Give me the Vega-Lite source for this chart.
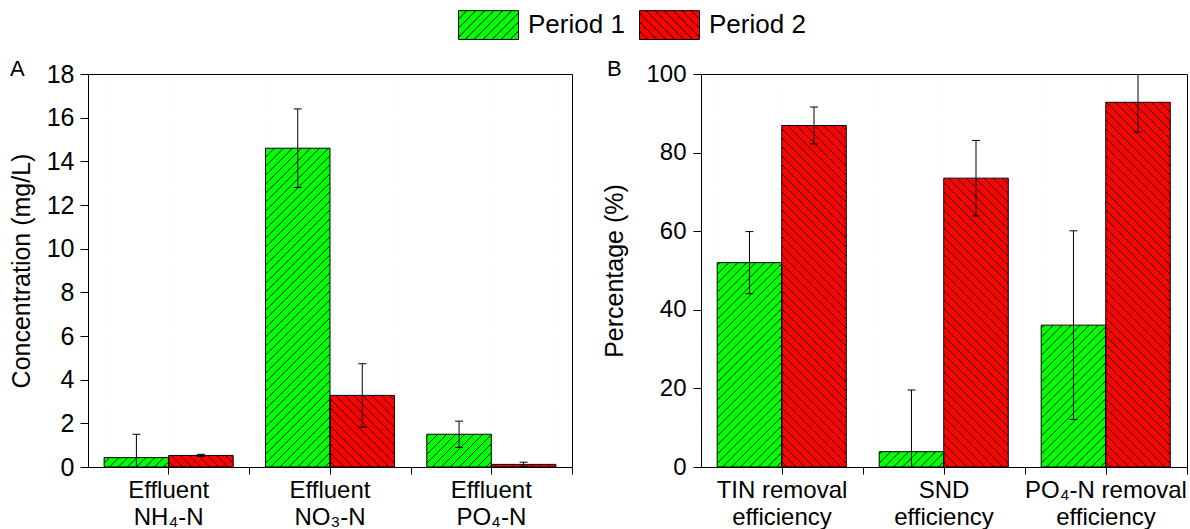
{
  "$schema": "https://vega.github.io/schema/vega-lite/v6.json",
  "autosize": {"type": "none"},
  "padding": {"left": 88, "top": 74, "right": 1102, "bottom": 455},
  "background": "white",
  "bounds": "flush",
  "spacing": 129,
  "config": {
    "font": "Liberation Sans",
    "view": {"stroke": "black", "strokeWidth": 1},
    "axis": {"labelFont": "Liberation Sans", "titleFont": "Liberation Sans", "labelColor": "black", "titleColor": "black", "domainColor": "black", "tickColor": "black", "titleFontWeight": "normal", "zindex": 1, "grid": false, "domainWidth": 1, "tickWidth": 1},
    "title": {"font": "Liberation Sans", "fontWeight": "normal", "color": "black", "fontSize": 22}
  },
  "hconcat": [
    {
      "width": 484,
      "height": 393,
      "title": {"text": "A", "anchor": "start", "frame": "group", "dx": -78, "dy": 36, "offset": 0, "baseline": "alphabetic", "fontSize": 22},
      "data": {"values": [
        {"item": "Effluent NH₄-N", "period": "Period 1", "value": 0.43, "lo": -0.64, "hi": 1.5},
        {"item": "Effluent NH₄-N", "period": "Period 2", "value": 0.53, "lo": 0.48, "hi": 0.58},
        {"item": "Effluent NO₃-N", "period": "Period 1", "value": 14.6, "lo": 12.8, "hi": 16.4},
        {"item": "Effluent NO₃-N", "period": "Period 2", "value": 3.28, "lo": 1.83, "hi": 4.73},
        {"item": "Effluent PO₄-N", "period": "Period 1", "value": 1.5, "lo": 0.9, "hi": 2.1},
        {"item": "Effluent PO₄-N", "period": "Period 2", "value": 0.12, "lo": 0.02, "hi": 0.22}
      ]},
      "resolve": {"axis": {"x": "independent"}},
      "layer": [
        {
          "mark": {"type": "bar", "stroke": null},
          "encoding": {
            "x": {"field": "item", "type": "nominal", "sort": null, "scale": {"paddingInner": 0.2, "paddingOuter": 0.1},
              "axis": {"orient": "bottom", "title": null, "labelAngle": 0, "labelFontSize": 24, "labelLineHeight": 27, "tickSize": 7, "labelPadding": 4, "labelLimit": 400, "labelOverlap": false,
                "labelExpr": "[slice(datum.label, 0, lastindexof(datum.label, ' ')), slice(datum.label, lastindexof(datum.label, ' ') + 1)]"}},
            "xOffset": {"field": "period", "type": "nominal", "sort": null},
            "y": {"field": "value", "type": "quantitative", "title": "Concentration (mg/L)",
              "scale": {"domain": [0, 18], "nice": false, "zero": true},
              "axis": {"values": [0,1,2,3,4,5,6,7,8,9,10,11,12,13,14,15,16,17,18], "labelExpr": "datum.value % 2 === 0 ? datum.label : ''", "labelOverlap": false, "labelFontSize": 25, "titleFontSize": 25, "labelPadding": 6, "titlePadding": 12, "tickSize": 8,
                "encode": {"ticks": {"update": {"x2": {"signal": "datum.value % 2 === 1 ? -4 : -8"}}}}}},
            "color": {"field": "period", "type": "nominal",
              "scale": {"domain": ["Period 1", "Period 2"], "range": ["#00ff00", "#ff0000"]},
              "legend": {"orient": "none", "legendX": 370, "legendY": -79.5, "direction": "horizontal", "columns": 2, "title": null,
                "labelFontSize": 26, "labelFont": "Liberation Sans", "labelColor": "black", "symbolSize": 3600, "labelOffset": 9, "columnPadding": 12,
                "symbolStrokeColor": "black", "symbolStrokeWidth": 1,
                "encode": {"symbols": {"update": {"stroke": {"value": "black"}, "strokeWidth": {"value": 1}, "shape": {"signal": "datum.value === 'Period 1' ? 'M-1,-0.48H1V0.48H-1ZM-1,-0.2L-0.72,-0.48M-1,0.1L-0.42,-0.48M-1,0.4L-0.12,-0.48M-0.78,0.48L0.18,-0.48M-0.48,0.48L0.48,-0.48M-0.18,0.48L0.78,-0.48M0.12,0.48L1,-0.4M0.42,0.48L1,-0.1M0.72,0.48L1,0.2' : 'M-1,-0.48H1V0.48H-1ZM1,-0.2L0.72,-0.48M1,0.1L0.42,-0.48M1,0.4L0.12,-0.48M0.78,0.48L-0.18,-0.48M0.48,0.48L-0.48,-0.48M0.18,0.48L-0.78,-0.48M-0.12,0.48L-1,-0.4M-0.42,0.48L-1,-0.1M-0.72,0.48L-1,0.2'"}}}}}}
          }
        },
        {
          "transform": [{"filter": "datum.period === 'Period 1'"}],
          "mark": {"type": "point", "filled": false, "stroke": "black", "strokeWidth": 0.9, "size": 4, "opacity": 1,
            "shape": "M27,0L31.8,-4.8M18,0L31.8,-13.8M9,0L31.8,-22.8M0,0L31.8,-31.8M-9,0L31.8,-40.8M-18,0L31.8,-49.8M-27,0L31.8,-58.8M-31.8,-4.2l63.6,-63.6M-31.8,-13.2l63.6,-63.6M-31.8,-22.2l63.6,-63.6M-31.8,-31.2l63.6,-63.6M-31.8,-40.2l63.6,-63.6M-31.8,-49.2l63.6,-63.6M-31.8,-58.2l63.6,-63.6M-31.8,-67.2l63.6,-63.6M-31.8,-76.2l63.6,-63.6M-31.8,-85.2l63.6,-63.6M-31.8,-94.2l63.6,-63.6M-31.8,-103.2l63.6,-63.6M-31.8,-112.2l63.6,-63.6M-31.8,-121.2l63.6,-63.6M-31.8,-130.2l63.6,-63.6M-31.8,-139.2l63.6,-63.6M-31.8,-148.2l63.6,-63.6M-31.8,-157.2l63.6,-63.6M-31.8,-166.2l63.6,-63.6M-31.8,-175.2l63.6,-63.6M-31.8,-184.2l63.6,-63.6M-31.8,-193.2l63.6,-63.6M-31.8,-202.2l63.6,-63.6M-31.8,-211.2l63.6,-63.6M-31.8,-220.2l63.6,-63.6M-31.8,-229.2l63.6,-63.6M-31.8,-238.2l63.6,-63.6M-31.8,-247.2l63.6,-63.6M-31.8,-256.2l63.6,-63.6M-31.8,-265.2l63.6,-63.6M-31.8,-274.2l63.6,-63.6M-31.8,-283.2l63.6,-63.6M-31.8,-292.2l63.6,-63.6M-31.8,-301.2l63.6,-63.6M-31.8,-310.2l63.6,-63.6M-31.8,-319.2l63.6,-63.6M-31.8,-328.2L25,-385M-31.8,-337.2L16,-385M-31.8,-346.2L7,-385M-31.8,-355.2L-2,-385M-31.8,-364.2L-11,-385M-31.8,-373.2L-20,-385M-31.8,-382.2L-29,-385"},
          "encoding": {
            "x": {"field": "item", "type": "nominal", "sort": null, "axis": {"orient": "bottom", "title": null, "labels": false, "domain": false, "grid": false, "tickSize": 7, "bandPosition": 1, "tickOffset": 16.13}},
            "xOffset": {"field": "period", "type": "nominal", "sort": null},
            "y": {"datum": 0, "type": "quantitative", "title": "Concentration (mg/L)"}
          }
        },
        {
          "transform": [{"filter": "datum.period === 'Period 2'"}],
          "mark": {"type": "point", "filled": false, "stroke": "black", "strokeWidth": 0.9, "size": 4, "opacity": 1,
            "shape": "M-27,0L-31.8,-4.8M-18,0L-31.8,-13.8M-9,0L-31.8,-22.8M0,0L-31.8,-31.8M9,0L-31.8,-40.8M18,0L-31.8,-49.8M27,0L-31.8,-58.8M31.8,-4.2l-63.6,-63.6M31.8,-13.2l-63.6,-63.6M31.8,-22.2l-63.6,-63.6M31.8,-31.2l-63.6,-63.6M31.8,-40.2l-63.6,-63.6M31.8,-49.2l-63.6,-63.6M31.8,-58.2l-63.6,-63.6M31.8,-67.2l-63.6,-63.6M31.8,-76.2l-63.6,-63.6M31.8,-85.2l-63.6,-63.6M31.8,-94.2l-63.6,-63.6M31.8,-103.2l-63.6,-63.6M31.8,-112.2l-63.6,-63.6M31.8,-121.2l-63.6,-63.6M31.8,-130.2l-63.6,-63.6M31.8,-139.2l-63.6,-63.6M31.8,-148.2l-63.6,-63.6M31.8,-157.2l-63.6,-63.6M31.8,-166.2l-63.6,-63.6M31.8,-175.2l-63.6,-63.6M31.8,-184.2l-63.6,-63.6M31.8,-193.2l-63.6,-63.6M31.8,-202.2l-63.6,-63.6M31.8,-211.2l-63.6,-63.6M31.8,-220.2l-63.6,-63.6M31.8,-229.2l-63.6,-63.6M31.8,-238.2l-63.6,-63.6M31.8,-247.2l-63.6,-63.6M31.8,-256.2l-63.6,-63.6M31.8,-265.2l-63.6,-63.6M31.8,-274.2l-63.6,-63.6M31.8,-283.2l-63.6,-63.6M31.8,-292.2l-63.6,-63.6M31.8,-301.2l-63.6,-63.6M31.8,-310.2l-63.6,-63.6M31.8,-319.2l-63.6,-63.6M31.8,-328.2L-25,-385M31.8,-337.2L-16,-385M31.8,-346.2L-7,-385M31.8,-355.2L2,-385M31.8,-364.2L11,-385M31.8,-373.2L20,-385M31.8,-382.2L29,-385"},
          "encoding": {
            "x": {"field": "item", "type": "nominal", "sort": null, "axis": null},
            "xOffset": {"field": "period", "type": "nominal", "sort": null},
            "y": {"datum": 0, "type": "quantitative", "title": "Concentration (mg/L)"}
          }
        },
        {
          "mark": {"type": "bar", "fill": "white", "stroke": null},
          "encoding": {
            "x": {"field": "item", "type": "nominal", "sort": null, "axis": null},
            "xOffset": {"field": "period", "type": "nominal", "sort": null},
            "y": {"field": "value", "type": "quantitative", "title": "Concentration (mg/L)"},
            "y2": {"datum": 17.7}
          }
        },
        {
          "mark": {"type": "bar", "fillOpacity": 0, "stroke": "black", "strokeWidth": 1},
          "encoding": {
            "x": {"field": "item", "type": "nominal", "sort": null, "axis": null},
            "xOffset": {"field": "period", "type": "nominal", "sort": null},
            "y": {"field": "value", "type": "quantitative", "title": "Concentration (mg/L)"}
          }
        },
        {
          "mark": {"type": "rule", "clip": true, "color": "black", "strokeWidth": 1},
          "encoding": {
            "x": {"field": "item", "type": "nominal", "sort": null, "axis": null},
            "xOffset": {"field": "period", "type": "nominal", "sort": null},
            "y": {"field": "lo", "type": "quantitative", "title": "Concentration (mg/L)"},
            "y2": {"field": "hi"}
          }
        },
        {
          "mark": {"type": "tick", "clip": true, "color": "black", "thickness": 1, "size": 8, "opacity": 1, "orient": "horizontal"},
          "encoding": {
            "x": {"field": "item", "type": "nominal", "sort": null, "axis": null},
            "xOffset": {"field": "period", "type": "nominal", "sort": null},
            "y": {"field": "hi", "type": "quantitative", "title": "Concentration (mg/L)"}
          }
        },
        {
          "mark": {"type": "tick", "clip": true, "color": "black", "thickness": 1, "size": 8, "opacity": 1, "orient": "horizontal"},
          "encoding": {
            "x": {"field": "item", "type": "nominal", "sort": null, "axis": null},
            "xOffset": {"field": "period", "type": "nominal", "sort": null},
            "y": {"field": "lo", "type": "quantitative", "title": "Concentration (mg/L)"}
          }
        }
      ]
    },
    {
      "width": 486,
      "height": 393,
      "title": {"text": "B", "anchor": "start", "frame": "group", "dx": -94, "dy": 36, "offset": 0, "baseline": "alphabetic", "fontSize": 22},
      "data": {"values": [
        {"item": "TIN removal efficiency", "period": "Period 1", "value": 52.0, "lo": 44.1, "hi": 59.9},
        {"item": "TIN removal efficiency", "period": "Period 2", "value": 86.9, "lo": 82.2, "hi": 91.6},
        {"item": "SND efficiency", "period": "Period 1", "value": 3.9, "lo": -11.8, "hi": 19.6},
        {"item": "SND efficiency", "period": "Period 2", "value": 73.5, "lo": 63.9, "hi": 83.1},
        {"item": "PO₄-N removal efficiency", "period": "Period 1", "value": 36.1, "lo": 12.1, "hi": 60.1},
        {"item": "PO₄-N removal efficiency", "period": "Period 2", "value": 92.8, "lo": 85.2, "hi": 100.4}
      ]},
      "resolve": {"axis": {"x": "independent"}},
      "layer": [
        {
          "mark": {"type": "bar", "stroke": null},
          "encoding": {
            "x": {"field": "item", "type": "nominal", "sort": null, "scale": {"paddingInner": 0.2, "paddingOuter": 0.1},
              "axis": {"orient": "bottom", "title": null, "labelAngle": 0, "labelFontSize": 24, "labelLineHeight": 27, "tickSize": 7, "labelPadding": 4, "labelLimit": 400, "labelOverlap": false,
                "labelExpr": "[slice(datum.label, 0, lastindexof(datum.label, ' ')), slice(datum.label, lastindexof(datum.label, ' ') + 1)]"}},
            "xOffset": {"field": "period", "type": "nominal", "sort": null},
            "y": {"field": "value", "type": "quantitative", "title": "Percentage (%)",
              "scale": {"domain": [0, 100], "nice": false, "zero": true},
              "axis": {"values": [0,10,20,30,40,50,60,70,80,90,100], "labelExpr": "datum.value % 20 === 0 ? datum.label : ''", "labelOverlap": false, "labelFontSize": 24, "titleFontSize": 25, "labelPadding": 7, "titlePadding": 18, "tickSize": 8,
                "encode": {"ticks": {"update": {"x2": {"signal": "datum.value % 20 === 10 ? -4 : -8"}}}}}},
            "color": {"field": "period", "type": "nominal",
              "scale": {"domain": ["Period 1", "Period 2"], "range": ["#00ff00", "#ff0000"]}}
          }
        },
        {
          "transform": [{"filter": "datum.period === 'Period 1'"}],
          "mark": {"type": "point", "filled": false, "stroke": "black", "strokeWidth": 0.9, "size": 4, "opacity": 1,
            "shape": "M27,0L31.8,-4.8M18,0L31.8,-13.8M9,0L31.8,-22.8M0,0L31.8,-31.8M-9,0L31.8,-40.8M-18,0L31.8,-49.8M-27,0L31.8,-58.8M-31.8,-4.2l63.6,-63.6M-31.8,-13.2l63.6,-63.6M-31.8,-22.2l63.6,-63.6M-31.8,-31.2l63.6,-63.6M-31.8,-40.2l63.6,-63.6M-31.8,-49.2l63.6,-63.6M-31.8,-58.2l63.6,-63.6M-31.8,-67.2l63.6,-63.6M-31.8,-76.2l63.6,-63.6M-31.8,-85.2l63.6,-63.6M-31.8,-94.2l63.6,-63.6M-31.8,-103.2l63.6,-63.6M-31.8,-112.2l63.6,-63.6M-31.8,-121.2l63.6,-63.6M-31.8,-130.2l63.6,-63.6M-31.8,-139.2l63.6,-63.6M-31.8,-148.2l63.6,-63.6M-31.8,-157.2l63.6,-63.6M-31.8,-166.2l63.6,-63.6M-31.8,-175.2l63.6,-63.6M-31.8,-184.2l63.6,-63.6M-31.8,-193.2l63.6,-63.6M-31.8,-202.2l63.6,-63.6M-31.8,-211.2l63.6,-63.6M-31.8,-220.2l63.6,-63.6M-31.8,-229.2l63.6,-63.6M-31.8,-238.2l63.6,-63.6M-31.8,-247.2l63.6,-63.6M-31.8,-256.2l63.6,-63.6M-31.8,-265.2l63.6,-63.6M-31.8,-274.2l63.6,-63.6M-31.8,-283.2l63.6,-63.6M-31.8,-292.2l63.6,-63.6M-31.8,-301.2l63.6,-63.6M-31.8,-310.2l63.6,-63.6M-31.8,-319.2l63.6,-63.6M-31.8,-328.2L25,-385M-31.8,-337.2L16,-385M-31.8,-346.2L7,-385M-31.8,-355.2L-2,-385M-31.8,-364.2L-11,-385M-31.8,-373.2L-20,-385M-31.8,-382.2L-29,-385"},
          "encoding": {
            "x": {"field": "item", "type": "nominal", "sort": null, "axis": {"orient": "bottom", "title": null, "labels": false, "domain": false, "grid": false, "tickSize": 7, "bandPosition": 1, "tickOffset": 16.2}},
            "xOffset": {"field": "period", "type": "nominal", "sort": null},
            "y": {"datum": 0, "type": "quantitative", "title": "Percentage (%)"}
          }
        },
        {
          "transform": [{"filter": "datum.period === 'Period 2'"}],
          "mark": {"type": "point", "filled": false, "stroke": "black", "strokeWidth": 0.9, "size": 4, "opacity": 1,
            "shape": "M-27,0L-31.8,-4.8M-18,0L-31.8,-13.8M-9,0L-31.8,-22.8M0,0L-31.8,-31.8M9,0L-31.8,-40.8M18,0L-31.8,-49.8M27,0L-31.8,-58.8M31.8,-4.2l-63.6,-63.6M31.8,-13.2l-63.6,-63.6M31.8,-22.2l-63.6,-63.6M31.8,-31.2l-63.6,-63.6M31.8,-40.2l-63.6,-63.6M31.8,-49.2l-63.6,-63.6M31.8,-58.2l-63.6,-63.6M31.8,-67.2l-63.6,-63.6M31.8,-76.2l-63.6,-63.6M31.8,-85.2l-63.6,-63.6M31.8,-94.2l-63.6,-63.6M31.8,-103.2l-63.6,-63.6M31.8,-112.2l-63.6,-63.6M31.8,-121.2l-63.6,-63.6M31.8,-130.2l-63.6,-63.6M31.8,-139.2l-63.6,-63.6M31.8,-148.2l-63.6,-63.6M31.8,-157.2l-63.6,-63.6M31.8,-166.2l-63.6,-63.6M31.8,-175.2l-63.6,-63.6M31.8,-184.2l-63.6,-63.6M31.8,-193.2l-63.6,-63.6M31.8,-202.2l-63.6,-63.6M31.8,-211.2l-63.6,-63.6M31.8,-220.2l-63.6,-63.6M31.8,-229.2l-63.6,-63.6M31.8,-238.2l-63.6,-63.6M31.8,-247.2l-63.6,-63.6M31.8,-256.2l-63.6,-63.6M31.8,-265.2l-63.6,-63.6M31.8,-274.2l-63.6,-63.6M31.8,-283.2l-63.6,-63.6M31.8,-292.2l-63.6,-63.6M31.8,-301.2l-63.6,-63.6M31.8,-310.2l-63.6,-63.6M31.8,-319.2l-63.6,-63.6M31.8,-328.2L-25,-385M31.8,-337.2L-16,-385M31.8,-346.2L-7,-385M31.8,-355.2L2,-385M31.8,-364.2L11,-385M31.8,-373.2L20,-385M31.8,-382.2L29,-385"},
          "encoding": {
            "x": {"field": "item", "type": "nominal", "sort": null, "axis": null},
            "xOffset": {"field": "period", "type": "nominal", "sort": null},
            "y": {"datum": 0, "type": "quantitative", "title": "Percentage (%)"}
          }
        },
        {
          "mark": {"type": "bar", "fill": "white", "stroke": null},
          "encoding": {
            "x": {"field": "item", "type": "nominal", "sort": null, "axis": null},
            "xOffset": {"field": "period", "type": "nominal", "sort": null},
            "y": {"field": "value", "type": "quantitative", "title": "Percentage (%)"},
            "y2": {"datum": 98.2}
          }
        },
        {
          "mark": {"type": "bar", "fillOpacity": 0, "stroke": "black", "strokeWidth": 1},
          "encoding": {
            "x": {"field": "item", "type": "nominal", "sort": null, "axis": null},
            "xOffset": {"field": "period", "type": "nominal", "sort": null},
            "y": {"field": "value", "type": "quantitative", "title": "Percentage (%)"}
          }
        },
        {
          "mark": {"type": "rule", "clip": true, "color": "black", "strokeWidth": 1},
          "encoding": {
            "x": {"field": "item", "type": "nominal", "sort": null, "axis": null},
            "xOffset": {"field": "period", "type": "nominal", "sort": null},
            "y": {"field": "lo", "type": "quantitative", "title": "Percentage (%)"},
            "y2": {"field": "hi"}
          }
        },
        {
          "mark": {"type": "tick", "clip": true, "color": "black", "thickness": 1, "size": 8, "opacity": 1, "orient": "horizontal"},
          "encoding": {
            "x": {"field": "item", "type": "nominal", "sort": null, "axis": null},
            "xOffset": {"field": "period", "type": "nominal", "sort": null},
            "y": {"field": "hi", "type": "quantitative", "title": "Percentage (%)"}
          }
        },
        {
          "mark": {"type": "tick", "clip": true, "color": "black", "thickness": 1, "size": 8, "opacity": 1, "orient": "horizontal"},
          "encoding": {
            "x": {"field": "item", "type": "nominal", "sort": null, "axis": null},
            "xOffset": {"field": "period", "type": "nominal", "sort": null},
            "y": {"field": "lo", "type": "quantitative", "title": "Percentage (%)"}
          }
        }
      ]
    }
  ]
}
